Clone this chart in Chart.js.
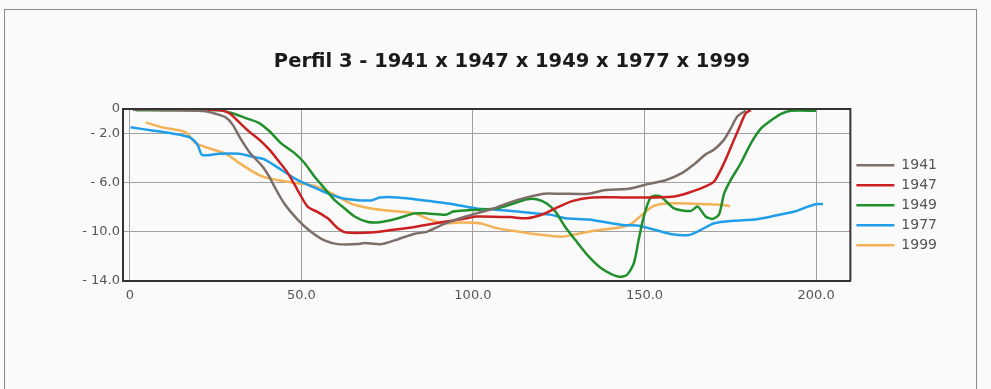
<!DOCTYPE html>
<html>
<head>
<meta charset="utf-8">
<script src="https://cdn.jsdelivr.net/npm/chart.js@4.4.1/dist/chart.umd.min.js"></script>
<style>
  html, body { margin: 0; padding: 0; background: #fafafa; }
  #wrap { position: relative; width: 991px; height: 389px; overflow: hidden; }
  #frame { position: absolute; left: 4px; top: 9px; width: 971px; height: 400px;
           border: 1px solid #8a8a8a; border-bottom: none; }
  #perfilGraph { position: absolute; left: 0; top: 0; }
</style>
</head>
<body>
<div id="wrap">
  <div id="frame"></div>
  <canvas id="perfilGraph" width="991" height="389"></canvas>
</div>
<script>
// profile depths: distance (x) and depth (y) for each survey year
var years = ["1941", "1947", "1949", "1977", "1999"];

var x1941 = [1, 10, 20, 22, 25, 28, 30, 32, 34.8, 38.7, 40.6, 42.1, 45, 48.9, 52.8, 56.7, 60.6, 66.5, 68.4, 73.3, 78.2, 83, 86.5, 91.3, 96.2, 101, 106, 110.8, 115.7, 120.6, 125.4, 133.7, 138.6, 145.4, 151.3, 156.1, 161, 164.9, 167.8, 170.3, 173.2, 175.1, 177.1, 179.5];
var y1941 = [-0.05, -0.1, -0.15, -0.2, -0.4, -0.7, -1.3, -2.3, -3.5, -4.7, -5.5, -6.3, -7.7, -9.0, -10.0, -10.7, -11.0, -11.0, -10.9, -11.0, -10.6, -10.15, -10.0, -9.4, -8.9, -8.5, -8.1, -7.6, -7.2, -6.9, -6.9, -6.9, -6.6, -6.5, -6.1, -5.8, -5.2, -4.4, -3.7, -3.3, -2.5, -1.6, -0.6, -0.15];

var x1947 = [1, 10, 20, 26, 29, 31.9, 34.8, 37.7, 40.6, 43.1, 46, 48.9, 51.8, 54.8, 57.7, 60.6, 63.1, 70.4, 76.2, 83, 91.3, 98.2, 101, 110.8, 115.7, 120.6, 124, 128.9, 134.7, 143.5, 153.2, 159.1, 163, 167.8, 170.3, 173.2, 176.1, 178.1, 179.5, 181];
var y1947 = [-0.05, -0.05, -0.05, -0.1, -0.35, -1.1, -1.85, -2.5, -3.3, -4.15, -5.2, -6.6, -7.95, -8.4, -8.9, -9.7, -10.05, -10.05, -9.85, -9.6, -9.2, -8.9, -8.75, -8.8, -8.9, -8.55, -8.1, -7.5, -7.2, -7.2, -7.2, -7.1, -6.8, -6.3, -5.9, -4.4, -2.5, -1.2, -0.35, -0.1];

var x1949 = [1.7, 10, 20, 26, 29.9, 33.8, 37.7, 40.6, 44.1, 48, 50.9, 53.8, 56.7, 59.6, 62.6, 65.5, 69.4, 73.3, 78.2, 83, 86.5, 92.3, 94.2, 101, 106.9, 111.8, 115.7, 118.6, 121.5, 124, 126.9, 129.8, 133.7, 137.6, 142.5, 144.9, 146.9, 148.3, 149.8, 151.8, 154.5, 158.6, 163.5, 165.5, 167.8, 169.8, 171.7, 173.2, 175.1, 178.1, 181, 183.9, 186.8, 189.8, 192.7, 200];
var y1949 = [-0.1, -0.1, -0.1, -0.12, -0.35, -0.75, -1.15, -1.8, -2.8, -3.6, -4.4, -5.5, -6.45, -7.4, -8.1, -8.75, -9.2, -9.2, -8.9, -8.5, -8.5, -8.6, -8.35, -8.2, -8.1, -7.7, -7.35, -7.35, -7.7, -8.35, -9.6, -10.65, -12.0, -13.0, -13.65, -13.5, -12.55, -10.65, -8.75, -7.2, -7.1, -8.1, -8.3, -7.95, -8.75, -8.95, -8.6, -6.9, -5.8, -4.4, -2.8, -1.6, -0.95, -0.4, -0.15, -0.15];

var x1977 = [0.2, 6.5, 12.4, 17.3, 19.7, 21.1, 26, 31.9, 35.8, 39.2, 44.1, 48.9, 53.8, 58.7, 62.6, 70.4, 72.8, 78.2, 83, 87.4, 94.2, 101, 106.9, 112.8, 118.6, 122.5, 126.9, 133.7, 143.5, 148.3, 153.2, 158.1, 163, 166.4, 170.3, 176.1, 182, 187.8, 193.7, 197.6, 200, 202];
var y1977 = [-1.5, -1.75, -2.0, -2.3, -2.9, -3.75, -3.65, -3.65, -3.9, -4.1, -4.95, -5.8, -6.4, -7.0, -7.3, -7.45, -7.2, -7.2, -7.35, -7.5, -7.75, -8.1, -8.2, -8.35, -8.5, -8.6, -8.9, -9.0, -9.45, -9.5, -9.85, -10.2, -10.25, -9.85, -9.3, -9.1, -9.0, -8.7, -8.35, -7.95, -7.75, -7.75];

var x1999 = [4.6, 9.4, 16.3, 19.2, 23.1, 28, 31.9, 35.8, 39.2, 44.1, 48.9, 53.8, 58.7, 64.5, 70.4, 76.2, 83, 86.5, 91.3, 96.2, 102, 106.9, 113.7, 118.6, 125.9, 129.8, 135.7, 143.5, 146.4, 149.3, 152.3, 156.1, 163, 167.8, 172.2, 175];
var y1999 = [-1.1, -1.5, -1.9, -2.8, -3.2, -3.65, -4.4, -5.1, -5.55, -5.85, -6.05, -6.25, -6.85, -7.7, -8.1, -8.3, -8.5, -8.9, -9.3, -9.25, -9.3, -9.7, -10.0, -10.2, -10.4, -10.2, -9.9, -9.6, -9.3, -8.6, -7.95, -7.7, -7.7, -7.75, -7.8, -7.9];

var xTicks = [0, 50, 100, 150, 200];
var yTicks = [0, -2, -6, -10, -14];

var xs = [x1941, x1947, x1949, x1977, x1999];
var ys = [y1941, y1947, y1949, y1977, y1999];
var colors = ["#7e6e69", "#cc2020", "#20902c", "#209ee8", "#f4b257"];

function toPoints(xa, ya) {
    var pts = [];
    for (var i = 0; i < xa.length; i++) {
        pts.push({x: xa[i], y: ya[i]});
    }
    return pts;
}

var datasets = [];
for (var i = 0; i < years.length; i++) {
    datasets.push({
        label: years[i],
        data: toPoints(xs[i], ys[i]),
        borderColor: colors[i],
        backgroundColor: colors[i],
        borderWidth: 2.5,
        pointRadius: 0,
        tension: 0.25
    });
}

var tickFont = {family: "'DejaVu Sans', sans-serif", size: 13};

var perfilConfig = {
    type: 'line',
    data: {datasets: datasets},
    options: {
        responsive: false,
        animation: false,
        layout: {padding: {left: 77, right: 44, top: 0, bottom: 78}},
        plugins: {
            title: {
                display: true,
                text: 'Perfil 3 - 1941 x 1947 x 1949 x 1977 x 1999',
                color: '#1a1a1a',
                font: {family: "'DejaVu Sans', sans-serif", size: 19.5, weight: 'bold'},
                padding: {top: 50, bottom: 35.5}
            },
            legend: {
                position: 'right',
                fullSize: false,
                title: {display: true, text: ' ', font: {size: 17}, padding: 0},
                labels: {
                    boxWidth: 38,
                    boxHeight: 0,
                    padding: 6,
                    color: '#555',
                    font: {family: "'DejaVu Sans', sans-serif", size: 14}
                }
            },
            tooltip: {enabled: false}
        },
        scales: {
            x: {
                type: 'linear',
                min: -2,
                max: 210,
                afterBuildTicks: function(scale) {
                    scale.ticks = xTicks.map(function(v) { return {value: v}; });
                },
                afterFit: function(scale) { scale.height = 30; },
                grid: {color: '#a0a0a0', lineWidth: 1, drawTicks: false},
                border: {display: true, color: '#333', width: 2},
                ticks: {
                    padding: 7,
                    color: '#555',
                    font: tickFont,
                    maxRotation: 0,
                    callback: function(v) { return v === 0 ? '0' : v.toFixed(1); }
                }
            },
            y: {
                min: -14,
                max: 0,
                afterBuildTicks: function(scale) {
                    scale.ticks = yTicks.map(function(v) { return {value: v}; });
                },
                afterFit: function(scale) { scale.width = 46; },
                grid: {color: '#a0a0a0', lineWidth: 1, drawTicks: false},
                border: {display: true, color: '#333', width: 2},
                ticks: {
                    padding: 3,
                    color: '#555',
                    font: tickFont,
                    callback: function(v) { return v === 0 ? '0' : '- ' + Math.abs(v).toFixed(1); }
                }
            }
        }
    },
    plugins: [{
        // right and top edges of the plot box
        id: 'boxFrame',
        afterDraw: function(chart) {
            var a = chart.chartArea, ctx = chart.ctx;
            ctx.save();
            ctx.strokeStyle = '#333';
            ctx.lineWidth = 2;
            ctx.beginPath();
            ctx.moveTo(a.left, a.top);
            ctx.lineTo(a.right, a.top);
            ctx.lineTo(a.right, a.bottom);
            ctx.stroke();
            ctx.restore();
        }
    }]
};

var perfilCtx = document.getElementById("perfilGraph");
var perfilChart = new Chart(perfilCtx, perfilConfig);
</script>
</body>
</html>
